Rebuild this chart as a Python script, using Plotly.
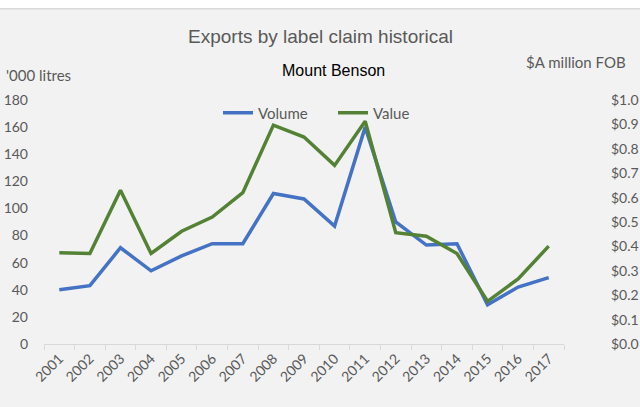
import plotly.graph_objects as go

years = ["2001", "2002", "2003", "2004", "2005", "2006", "2007", "2008", "2009",
         "2010", "2011", "2012", "2013", "2014", "2015", "2016", "2017"]
volume = [40, 43, 71, 54, 65, 74, 74, 111, 107, 87, 160, 90, 73, 74, 29, 42, 49]
value = [0.374, 0.371, 0.630, 0.371, 0.462, 0.520, 0.620, 0.897, 0.848, 0.732,
         0.913, 0.456, 0.442, 0.371, 0.175, 0.267, 0.401]
left_ticks = [0, 20, 40, 60, 80, 100, 120, 140, 160, 180]
right_ticks = [0.0, 0.1, 0.2, 0.3, 0.4, 0.5, 0.6, 0.7, 0.8, 0.9, 1.0]

W, H = 640, 407
L, R, T, B = 44, 76, 100, 62.5
ph = H - T - B
pw = W - L - R


def py(p):
    return (H - B - p) / ph


def px(p):
    return (p - L) / pw


grey = "#595959"
tickfont = dict(family="Lato, Open Sans, sans-serif", size=14, color=grey)

fig = go.Figure()
fig.add_trace(go.Scatter(x=years, y=volume, name="Volume", mode="lines",
                         line=dict(color="#4472C4", width=3.5)))
fig.add_trace(go.Scatter(x=years, y=value, name="Value", mode="lines", yaxis="y2",
                         line=dict(color="#548235", width=3.5)))

fig.update_layout(
    width=W, height=H,
    margin=dict(l=L, r=R, t=T, b=B, autoexpand=False),
    paper_bgcolor="#f2f2f2", plot_bgcolor="#f2f2f2",
    showlegend=True,
    legend=dict(orientation="h", x=px(218), y=py(113), xanchor="left", yanchor="middle",
                bgcolor="rgba(0,0,0,0)", entrywidth=70, entrywidthmode="pixels",
                font=dict(family="Lato, Open Sans, sans-serif", size=15, color=grey),
                tracegroupgap=0),
    xaxis=dict(type="category", range=[-0.5, 16.5], showgrid=False,
               showline=True, linecolor="#d9d9d9", linewidth=1,
               ticks="outside", tickson="boundaries", ticklen=5, tickcolor="#d9d9d9",
               tickangle=-45, tickfont=tickfont),
    yaxis=dict(range=[0, 180], tickvals=left_ticks, showgrid=False, zeroline=False,
               showline=False, ticks="", tickfont=tickfont, ticklabelstandoff=15),
    yaxis2=dict(range=[0, 1.0], tickvals=right_ticks, tickformat="$.1f", overlaying="y",
                side="right", showgrid=False, zeroline=False, showline=False, ticks="",
                tickfont=tickfont, ticklabelstandoff=46),
    shapes=[
        dict(type="rect", xref="paper", yref="paper", x0=px(-5), x1=px(650),
             y0=py(8), y1=py(-5), fillcolor="white", line=dict(width=0), layer="below"),
        dict(type="line", xref="paper", yref="paper", x0=px(-5), x1=px(650),
             y0=py(8.5), y1=py(8.5), line=dict(color="#d9d9d9", width=1.5)),
    ],
    annotations=[
        dict(text="Exports by label claim historical", xref="paper", yref="paper",
             x=px(320), y=py(36), xanchor="center", yanchor="middle", showarrow=False,
             font=dict(family="Liberation Sans, Arial", size=19, color=grey)),
        dict(text="Mount Benson", xref="paper", yref="paper",
             x=px(333), y=py(70), xanchor="center", yanchor="middle", showarrow=False,
             font=dict(family="Liberation Sans, Arial", size=16, color="black")),
        dict(text="'000 litres", xref="paper", yref="paper",
             x=px(4), y=py(75), xanchor="left", yanchor="middle", showarrow=False,
             font=dict(family="Lato, Open Sans, sans-serif", size=15, color=grey)),
        dict(text="$A million FOB", xref="paper", yref="paper",
             x=px(524), y=py(62), xanchor="left", yanchor="middle", showarrow=False,
             font=dict(family="Lato, Open Sans, sans-serif", size=15, color=grey)),
    ],
)

fig.write_html("out.html", config={"displayModeBar": False},
               post_script="document.body.style.margin='0';document.body.style.overflow='hidden';")
